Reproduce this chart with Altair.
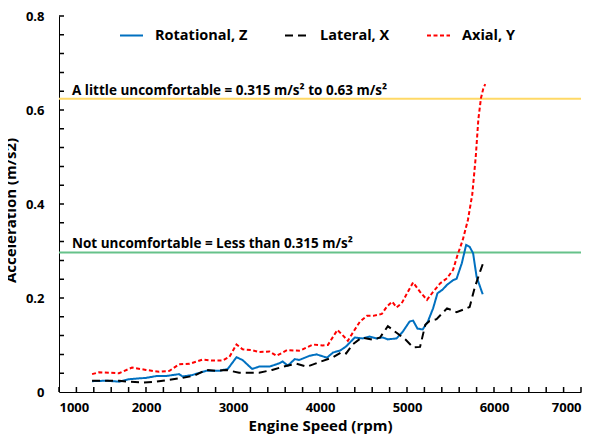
import altair as alt
import pandas as pd

# ---------------- data ----------------
series_names = ["Rotational, Z", "Lateral, X", "Axial, Y"]

rot_rpm = [1380,1540,1690,1800,1920,2000,2120,2230,2380,2420,
           2530,2690,2840,2940,3040,3110,3220,3300,3420,3530,
           3570,3630,3710,3760,3880,3960,4080,4150,4230,4300,
           4400,4490,4570,4650,4720,4780,4880,4950,5030,5070,
           5120,5180,5240,5300,5350,5410,5460,5530,5570,5630,
           5680,5720,5760,5800,5870]
rot_acc = [0.023,0.024,0.022,0.027,0.029,0.030,0.034,0.034,0.038,0.033,
           0.036,0.045,0.045,0.049,0.074,0.068,0.049,0.054,0.054,0.061,
           0.065,0.056,0.070,0.068,0.077,0.080,0.073,0.084,0.088,0.097,
           0.116,0.114,0.118,0.114,0.116,0.112,0.114,0.128,0.150,0.152,
           0.135,0.133,0.150,0.178,0.210,0.218,0.228,0.238,0.241,0.274,
           0.313,0.309,0.295,0.245,0.208]

lat_rpm = [1380,1580,1690,1800,1960,2120,2270,2420,2560,2690,
           2810,2920,3070,3300,3450,3620,3730,3850,4000,4150,
           4250,4300,4380,4480,4610,4690,4780,4880,4980,5070,
           5150,5210,5260,5340,5460,5570,5670,5720,5780,5840,
           5880]
lat_acc = [0.024,0.024,0.024,0.022,0.020,0.022,0.026,0.030,0.035,0.047,
           0.045,0.047,0.041,0.041,0.047,0.056,0.060,0.054,0.064,0.074,
           0.085,0.082,0.102,0.116,0.111,0.116,0.140,0.126,0.112,0.095,
           0.096,0.143,0.151,0.155,0.178,0.170,0.177,0.181,0.223,0.256,
           0.277]

ax_rpm = [1380,1460,1580,1690,1840,2000,2150,2270,2380,2500,
          2650,2760,2880,2960,3040,3110,3220,3300,3420,3500,
          3620,3770,3920,4030,4090,4200,4260,4320,4380,4460,
          4540,4610,4710,4770,4830,4880,4940,5000,5070,5150,
          5230,5300,5380,5460,5530,5580,5640,5700,5750,5790,
          5820,5850,5880,5900]
ax_acc = [0.038,0.042,0.041,0.040,0.052,0.047,0.043,0.045,0.059,0.060,
          0.069,0.067,0.067,0.075,0.101,0.091,0.089,0.085,0.086,0.077,
          0.089,0.088,0.101,0.099,0.100,0.132,0.121,0.109,0.127,0.150,
          0.162,0.162,0.166,0.182,0.192,0.180,0.189,0.210,0.233,0.213,
          0.196,0.213,0.231,0.242,0.260,0.291,0.323,0.366,0.420,0.500,
          0.580,0.625,0.648,0.655]

threshold_values = [0.624, 0.297]
threshold_labels = ["A little uncomfortable = 0.315 m/s\u00b2 to 0.63 m/s\u00b2",
                    "Not uncomfortable = Less than 0.315 m/s\u00b2"]
threshold_colors = ["#FFD966", "#66C28A"]

x_tick_labels = [1000, 2000, 3000, 4000, 5000, 6000, 7000]
y_tick_labels = [0, 0.2, 0.4, 0.6, 0.8]
x_minor_ticks = list(range(1000, 7001, 200))
y_minor_ticks = [round(0.04 * i, 2) for i in range(1, 21)]

# ---------------- tables ----------------
rows = []
for name, xs, ys in zip(series_names, [rot_rpm, lat_rpm, ax_rpm], [rot_acc, lat_acc, ax_acc]):
    for i, (a, b) in enumerate(zip(xs, ys)):
        rows.append({"series": name, "rpm": a, "acc": b, "order": i})
df = pd.DataFrame(rows)
thr = pd.DataFrame({"value": threshold_values, "label": threshold_labels, "color": threshold_colors})
xt = pd.DataFrame({"xv": x_minor_ticks})
yt = pd.DataFrame({"yv": y_minor_ticks})

FONT = "Open Sans"
W, H = 522, 376

xscale = alt.Scale(domain=[1000, 7000], nice=False, zero=False)
yscale = alt.Scale(domain=[0, 0.8], nice=False)

x_enc = alt.X("rpm:Q", scale=xscale,
              axis=alt.Axis(values=x_tick_labels, format="d", title="Engine Speed (rpm)",
                            labelPadding=9, titlePadding=4,
                            labelFont=FONT, labelFontWeight=700, labelFontSize=13,
                            titleFont=FONT, titleFontWeight=700, titleFontSize=15))
y_enc = alt.Y("acc:Q", scale=yscale,
              axis=alt.Axis(values=y_tick_labels, format="~g", title="Acceleration (m/s2)",
                            labelPadding=15, titleX=-44, titleY=194, titleAngle=270,
                            titleBaseline="alphabetic", titleAlign="center",
                            labelFont=FONT, labelFontWeight=700, labelFontSize=13,
                            titleFont=FONT, titleFontWeight=700, titleFontSize=15))

leg = alt.Legend(title=None, orient="none", legendX=60, legendY=7, direction="horizontal",
                 symbolType="stroke", symbolSize=529, symbolStrokeWidth=2,
                 labelFont=FONT, labelFontWeight=700, labelFontSize=14.5, labelColor="black",
                 labelOffset=11, columnPadding=33, padding=0)

lines = alt.Chart(df).mark_line(strokeWidth=2).encode(
    x=x_enc,
    y=y_enc,
    color=alt.Color("series:N", scale=alt.Scale(domain=series_names,
                                                range=["#0070C0", "#000000", "#FF0000"]), legend=leg),
    strokeDash=alt.StrokeDash("series:N", scale=alt.Scale(domain=series_names,
                                                          range=[[1, 0], [8, 5], [4, 2.5]]), legend=leg),
    order="order:Q",
)

thr_lines = alt.Chart(thr).mark_rule(strokeWidth=2).encode(
    y=alt.Y("value:Q", scale=yscale),
    x=alt.value(0), x2=alt.value(W),
    color=alt.Color("color:N", scale=None),
)

thr_text = alt.Chart(thr).mark_text(align="left", baseline="alphabetic", dy=-4,
                                    font=FONT, fontWeight=700, fontSize=13.5, color="black").encode(
    y=alt.Y("value:Q", scale=yscale),
    x=alt.value(13),
    text="label:N",
)

# minor ticks, drawn inside the plot through the shared scales
xticks = alt.Chart(xt).mark_rule(strokeWidth=1.5).encode(
    x=alt.X("xv:Q", scale=xscale), y=alt.value(H), y2=alt.value(H - 5),
    color=alt.value("#000000"), strokeDash=alt.value([1, 0]))
yticks = alt.Chart(yt).mark_rule(strokeWidth=1.5).encode(
    y=alt.Y("yv:Q", scale=yscale), x=alt.value(0), x2=alt.value(5),
    color=alt.value("#000000"), strokeDash=alt.value([1, 0]))

mask = alt.Chart(pd.DataFrame({"m": [0]})).mark_rect(color="white").encode(
    x=alt.value(-60), x2=alt.value(-51), y=alt.value(100), y2=alt.value(300))

chart = alt.layer(thr_lines, thr_text, lines, mask, xticks, yticks).properties(
    width=W, height=H,
    background="white",
    autosize=alt.AutoSizeParams(type="none"),
    padding={"left": 59, "top": 16, "right": 14, "bottom": 51},
).configure_view(stroke=None).configure_axis(
    grid=False, ticks=False, domainColor="black", domainWidth=1,
    labelFont=FONT, labelFontWeight=700, labelFontSize=13, labelColor="black",
    titleFont=FONT, titleFontWeight=700, titleFontSize=15, titleColor="black",
)

chart.save("out.html", embed_options={"renderer": "svg", "actions": False})
